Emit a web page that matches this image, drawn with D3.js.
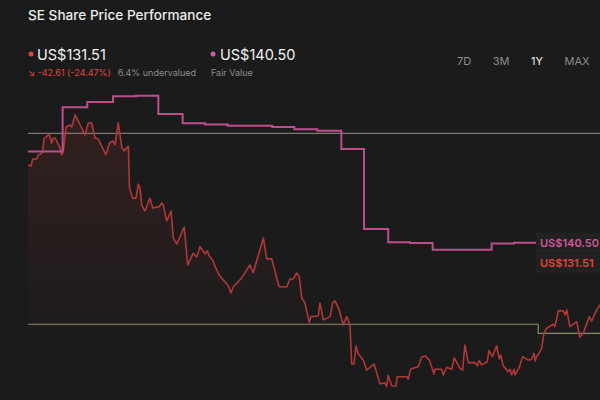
<!DOCTYPE html>
<html>
<head>
<meta charset="utf-8">
<script src="https://cdn.jsdelivr.net/npm/d3@7"></script>
<style>
  html, body { margin: 0; padding: 0; background: #1b1b1b; }
  svg { display: block; font-family: Inter, "Noto Sans", sans-serif; }
</style>
</head>
<body>
<svg id="chart" width="600" height="400"></svg>
<script>
// share price, one year (day offset from start, price in US$)
var priceDays = [0,1.9,2.9,5.4,6.4,7.9,9.1,9.9,13.2,14.7,15.7,16.9,19.9,20.9,21.9,23.6,26.1,27.1,29.2,31.8,
  35.4,37.4,39.5,41.6,43.6,48.4,50.5,52.6,54,56,58.2,59.6,62.3,63,65,67,68.5,69.5,70.6,72.6,
  75.7,77.4,81.5,83,84,86.1,88.8,90.2,92.3,97,99.1,102.6,104.7,106.8,109.9,111.3,112.5,114.6,117.1,118.7,
  121.2,124.3,126,127.4,132.6,137.8,139.8,146.1,148.2,151.3,154.4,155.8,160.6,162.6,164.7,166.8,168.4,169.9,171.9,174.6,
  175.5,180.2,181.2,181.9,183.3,187.5,189.1,190.6,193.2,195.7,197.8,199.9,200.9,202.3,203.6,205,208.1,210.2,214.8,218.5,
  221.6,222.6,223.6,225.8,228.4,229.2,235.4,236,237.5,242.3,244.4,246.4,249.1,250.6,252,252.6,256.8,257.8,259.9,263,
  264.6,268.1,269.8,271.2,273.3,277.5,278.9,280.1,281.6,285.1,286.1,288.4,290.9,292.5,293.4,295,298.1,299.2,300.2,301.7,
  302.3,305,307,310.5,312.6,314.1,314.9,315.8,316.7,318.8,320.3,321.9,326,327.1,329.2,332.3,333.4,334.4,336.4,340.6,
  342.6,344.7,348.4,349.9,353,355,359.3,362.4,365];
var priceValues = [174.12,173.7,176.7,176.7,178.5,178.9,179.9,185.4,187.5,183.6,185.8,185.8,181.5,178.5,179.9,190.7,191.4,190.6,195.8,192.3,
  187.1,192.3,192.4,185.8,185.4,178.5,183.6,184.6,182.8,192.4,182.0,180.2,182.3,164.2,159.8,159.8,165.9,164.2,156.8,154.2,
  159.8,155.5,156.1,157.7,156.8,149.9,154.2,142.5,139.9,147.3,130.9,136.0,134.3,138.8,135.6,137.0,134.7,133.0,128.7,126.5,
  124.4,121.9,118.7,121.3,125.2,130.9,127.5,142.5,133.5,133.5,125.2,121.5,121.3,124.8,124.8,127.4,125.8,116.7,114.4,105.9,
  108.5,108.8,114.4,112.2,107.1,108.5,114.5,115.3,111.4,104.9,108.5,104.9,88.0,88.0,95.8,92.3,89.7,85.4,88.0,79.4,
  79.9,78.2,83.0,78.6,78.5,82.5,82.5,81.4,85.7,86.9,91.0,91.5,89.7,86.7,83.7,85.7,85.7,83.3,86.6,85.7,
  90.7,86.2,85.4,96.2,88.6,88.6,87.2,89.4,87.6,89.0,93.8,91.2,95.9,90.2,91.9,87.2,84.7,85.7,83.3,85.7,
  83.3,86.6,91.2,89.7,90.0,92.6,89.3,91.5,91.9,94.8,101.3,103.5,105.2,104.2,111.1,111.0,109.2,111.4,104.2,106.3,
  99.6,101.3,108.5,106.6,111.4,113.5,120.0,126.5,131.51];

// fair value estimate (step changes)
var fairDays = [0,21.5,36.8,52.8,67,80.9,96,109.9,124,151.6,165.3,179.6,194.5,208.6,223.6,237.1,251.2,287.8,301.7,365];
var fairValues = [180.0,199.1,201.4,203.9,204.1,196.2,192.2,191.7,191.1,190.6,189.6,189.0,181.0,146.4,140.7,140.4,137.5,140.1,140.5,140.5];

// reference levels
var upperDays = [0, 365];
var upperValues = [187.8, 187.8];
var lowerDays = [0, 316.7, 365];
var lowerValues = [105.2, 101.3, 101.3];

var lastPrice = 131.51, fairValue = 140.50;
var change = "-42.61 (-24.47%)", undervalued = "6.4% undervalued";
var periods = ["7D", "3M", "1Y", "MAX"];

var svg = d3.select("#chart");

var x = d3.scaleLinear().domain([0, 365]).range([28, 616]);
var y = d3.scaleLinear().domain([70, 210]).range([405.6, 82.1]);

function zip(days, vals){
	return days.map(function(d, i){ return {d: d, v: vals[i]}; });
}
var price = zip(priceDays, priceValues),
	fair = zip(fairDays, fairValues),
	upper = zip(upperDays, upperValues),
	lower = zip(lowerDays, lowerValues);

var defs = svg.append("defs");
var grad = defs.append("linearGradient")
	.attr("id", "areaGrad")
	.attr("gradientUnits", "userSpaceOnUse")
	.attr("x1", 0).attr("y1", 95).attr("x2", 0).attr("y2", 350);
grad.append("stop").attr("offset", "0%").attr("stop-color", "#c23b3b").attr("stop-opacity", 0.16);
grad.append("stop").attr("offset", "100%").attr("stop-color", "#c23b3b").attr("stop-opacity", 0);

defs.append("clipPath").attr("id", "plotClip")
	.append("rect").attr("x", 28).attr("y", 80).attr("width", 572).attr("height", 320);

var plot = svg.append("g").attr("clip-path", "url(#plotClip)");

var area = d3.area()
	.x(function(d){ return x(d.d); })
	.y0(400)
	.y1(function(d){ return y(d.v); });

plot.append("path")
	.datum(price)
	.attr("d", area)
	.attr("fill", "url(#areaGrad)");

var stepLine = d3.line()
	.x(function(d){ return x(d.d); })
	.y(function(d){ return y(d.v); })
	.curve(d3.curveStepAfter);

plot.append("path").datum(upper).attr("d", stepLine)
	.attr("fill", "none").attr("stroke", "#7b7972").attr("stroke-width", 1.2);
plot.append("path").datum(lower).attr("d", stepLine)
	.attr("fill", "none").attr("stroke", "#8a876c").attr("stroke-width", 1.2);

plot.append("path")
	.datum(price)
	.attr("d", d3.line().x(function(d){ return x(d.d); }).y(function(d){ return y(d.v); }))
	.attr("fill", "none")
	.attr("stroke", "#b0383a")
	.attr("stroke-width", 1.6)
	.attr("stroke-linejoin", "round");

plot.append("path")
	.datum(fair)
	.attr("d", stepLine)
	.attr("fill", "none")
	.attr("stroke", "#bd4f8e")
	.attr("stroke-width", 2);

// end labels
function endLabel(val, color, x0){
	var g = svg.append("g");
	g.append("rect")
		.attr("x", x0 - 4).attr("y", y(val) - 10)
		.attr("width", 70).attr("height", 20)
		.attr("fill", "#212121");
	g.append("text")
		.attr("x", x0).attr("y", y(val))
		.attr("dy", "0.36em")
		.attr("fill", color)
		.attr("font-size", 11)
		.attr("font-weight", 600)
		.text("US$" + d3.format(".2f")(val));
}
endLabel(fairValue, "#cf579d", 540);
endLabel(lastPrice, "#e5413d", 540);

// header
svg.append("text").attr("x", 28).attr("y", 20)
	.attr("fill", "#ececec").attr("font-size", 13.6).attr("font-weight", 500)
	.text("SE Share Price Performance");

svg.append("circle").attr("cx", 31).attr("cy", 54).attr("r", 2.5).attr("fill", "#e5413d");
svg.append("text").attr("x", 37).attr("y", 60)
	.attr("fill", "#f2f2f2").attr("font-size", 14.5)
	.text("US$" + d3.format(".2f")(lastPrice));

svg.append("circle").attr("cx", 213).attr("cy", 54).attr("r", 2.5).attr("fill", "#cf579d");
svg.append("text").attr("x", 220).attr("y", 60)
	.attr("fill", "#f2f2f2").attr("font-size", 14.5)
	.text("US$" + d3.format(".2f")(fairValue));

var chg = svg.append("text").attr("x", 28).attr("y", 76)
	.attr("fill", "#e5413d").attr("font-size", 9)
	.text("↘ " + change);
var chgW = chg.node().getComputedTextLength();
svg.append("text").attr("x", 28 + chgW + 7).attr("y", 76)
	.attr("fill", "#8c8c8c").attr("font-size", 9)
	.text(undervalued);
svg.append("text").attr("x", 211).attr("y", 76)
	.attr("fill", "#8c8c8c").attr("font-size", 9)
	.text("Fair Value");

var periodX = [464, 501, 537, 577];
svg.selectAll("text.period")
	.data(periods)
	.enter()
	.append("text")
	.attr("class", "period")
	.attr("x", function(d, i){ return periodX[i]; })
	.attr("y", 65)
	.attr("text-anchor", "middle")
	.attr("font-size", 11)
	.attr("fill", function(d){ return d == "1Y" ? "#f2f2f2" : "#8c8c8c"; })
	.text(function(d){ return d; });
</script>
</body>
</html>
